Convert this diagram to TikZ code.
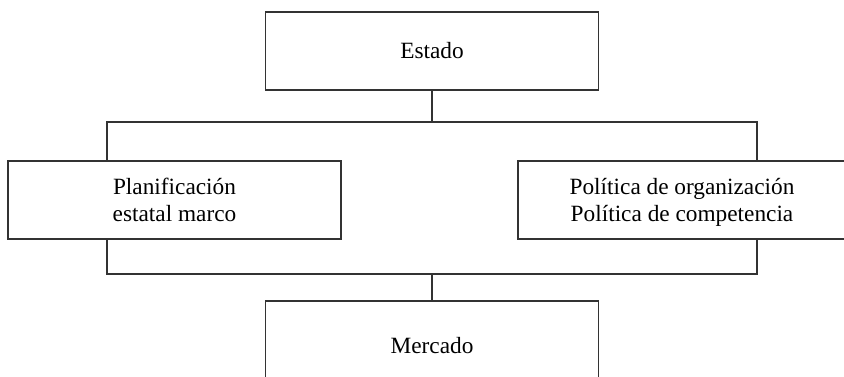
\documentclass[tikz,border=0pt]{standalone}
\usepackage{fontspec}
\setmainfont{Liberation Serif}
\definecolor{linec}{HTML}{333333}
\begin{document}
\begin{tikzpicture}[x=1pt,y=-1pt,
  box/.style={draw=linec,line width=1.6pt,rectangle,inner sep=0pt},
  txt/.style={inner sep=0pt,align=center,font=\fontsize{23.3}{27.5}\selectfont},
  conn/.style={draw=linec,line width=1.6pt}]
\useasboundingbox (0,0) rectangle (844,376);
\clip (0,0) rectangle (844,376);
\node[box,minimum width=333pt,minimum height=78pt] (estado) at (432,51) {};
\node[box,minimum width=333pt,minimum height=78pt] (plan) at (174.5,200) {};
\node[box,minimum width=328pt,minimum height=78pt] (pol) at (682,200) {};
\node[box,minimum width=333pt,minimum height=88pt] (merc) at (432,345) {};
\node[txt] (estadot) at (432,52.5) {\strut Estado};
\node[txt] (plant) at (174.5,202.25) {\strut Planificación\\\strut estatal marco};
\node[txt] (polt) at (682,202.25) {\strut Política de organización\\\strut Política de competencia};
\node[txt] (merct) at (432,347.8) {\strut Mercado};
\coordinate (tbL) at (107,122);
\coordinate (tbR) at (757,122);
\coordinate (bbL) at (107,274);
\coordinate (bbR) at (757,274);
\draw[conn] (estado.south) -- (estado.south |- tbL);
\draw[conn] (plan.north -| tbL) -- (tbL) -- (tbR) -- (pol.north -| tbR);
\draw[conn] (plan.south -| bbL) -- (bbL) -- (bbR) -- (pol.south -| bbR);
\draw[conn] (merc.north |- bbL) -- (merc.north);
\end{tikzpicture}
\end{document}
